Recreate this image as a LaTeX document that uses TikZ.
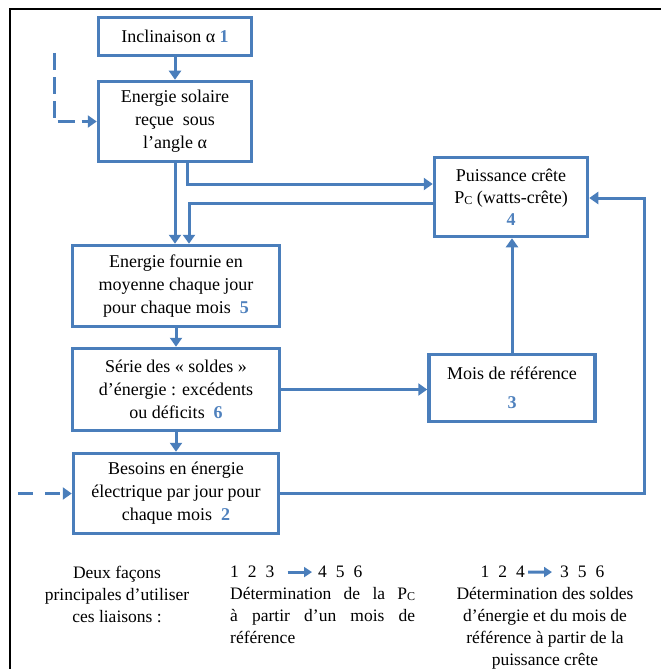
\documentclass[tikz,border=0pt]{standalone}
\usepackage{fontspec}
\setmainfont{Liberation Serif}
\usetikzlibrary{arrows.meta}
\definecolor{lblue}{RGB}{74,126,187}
\definecolor{nblue}{RGB}{79,129,189}
\newcommand{\nb}[1]{\textcolor{nblue}{\textbf{#1}}}
\newcommand{\pcsub}{P\raisebox{-1.5pt}{\fontsize{12}{12}\selectfont C}}
\begin{document}
\begin{tikzpicture}[x=1pt,y=-1pt,
  box/.style={draw=lblue, line width=3.5pt, inner sep=0pt, align=center, font=\fontsize{18}{23}\selectfont},
  arr/.style={draw=lblue, line width=3pt, -{Triangle[width=12pt,length=9pt]}},
  arrsmall/.style={draw=lblue, line width=3pt, -{Triangle[width=10pt,length=8pt]}},
  txt/.style={inner sep=0pt, font=\fontsize{17.5}{22}\selectfont}]
\useasboundingbox (0,0) rectangle (661,669);
\draw[line width=2pt] (10,669) -- (10,9) -- (661,9);

\node[box, minimum width=153pt, minimum height=38pt] (b1) at (175,36.5) {Inclinaison α \nb{1}};
\node[box, minimum width=153pt, minimum height=80pt] (b2) at (175,121.5) {Energie solaire\\reçue\ \ sous\\l’angle α};
\node[box, minimum width=153pt, minimum height=79pt, font=\fontsize{18}{22}\selectfont] (b4) at (511,197) {Puissance crête\\\pcsub{} (watts-crête)\\\nb{4}};
\node[box, minimum width=207pt, minimum height=81pt] (b5) at (176,286) {Energie fournie en\\moyenne chaque jour\\pour chaque mois\ \ \nb{5}};
\node[box, minimum width=207pt, minimum height=82pt] (b6) at (176,389.5) {Série des « soldes »\\d’énergie : excédents\\ou déficits\ \ \nb{6}};
\node[box, minimum width=205pt, minimum height=80pt] (bB) at (176,493.5) {Besoins en énergie\\électrique par jour pour\\chaque mois\ \ \nb{2}};
\node[box, minimum width=166pt, minimum height=67pt] (b3) at (512,388) {Mois de référence\\[6pt]\nb{3}};

\draw[arr] (b1) -- (b2);
\draw[arr] (b2.south) -- (b2.south |- b5.north);
\draw[arr] (b2.south -| 187,0) |- (b4.west |- 0,184);
\draw[arr] (b4.west |- 0,203) -| (b5.north -| 189,0);
\draw[arr] (b5) -- (b6);
\draw[arr] (b6) -- (bB);
\draw[arr] (b6.east) -- (b3.west |- b6.east);
\draw[arr] (b3.north) -- (b3.north |- b4.south);
\draw[arr] (bB.east) -| (644,198) -- (b4.east |- 0,198);
\coordinate (d1) at (54,53);
\draw[arr, dash pattern=on 17pt off 7pt] (d1) |- (b2.west);
\coordinate (d2) at (18,493.5);
\draw[arr, dash pattern=on 15pt off 12pt] (d2) -- (bB.west);

\node[txt, align=center, anchor=north] (t1) at (117,566) {Deux façons\\principales d’utiliser\\ces liaisons :};
\node[txt, anchor=north west] (n1) at (230,566) {1\hspace{9pt}2\hspace{9pt}3};
\node[txt, anchor=north west] (n2) at (318,566) {4\hspace{9pt}5\hspace{9pt}6};
\draw[arrsmall, shorten <=13pt, shorten >=6pt] (n1) -- (n2);
\node[txt, align=left, anchor=north west] (t2) at (230,587) {\makebox[185pt][s]{Détermination de la \pcsub}\\\makebox[185pt][s]{à partir d’un mois de}\\référence};
\node[txt, anchor=north east] (n3) at (525,566) {1\hspace{9pt}2\hspace{9pt}4};
\node[txt, anchor=north west] (n4) at (560,566) {3\hspace{9pt}5\hspace{9pt}6};
\draw[arrsmall, shorten <=3pt, shorten >=8pt] (n3) -- (n4);
\node[txt, align=center, anchor=north] (t3) at (545,587) {Détermination des soldes\\d’énergie et du mois de\\référence à partir de la\\puissance crête};
\end{tikzpicture}
\end{document}
